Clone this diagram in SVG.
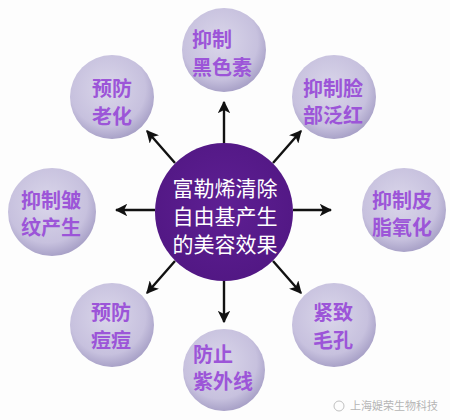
<svg xmlns="http://www.w3.org/2000/svg" width="450" height="420" viewBox="0 0 450 420">
<defs>
<radialGradient id="sat" cx="0.45" cy="0.4" r="0.6">
<stop offset="0" stop-color="#dad6ea"/>
<stop offset="0.75" stop-color="#c7c1de"/>
<stop offset="1" stop-color="#a9a2c8"/>
</radialGradient>
<radialGradient id="ctr" cx="0.5" cy="0.45" r="0.6">
<stop offset="0" stop-color="#5e1f93"/>
<stop offset="1" stop-color="#511783"/>
</radialGradient>
<marker id="ah" viewBox="0 0 10 10" refX="9" refY="5" markerWidth="5.2" markerHeight="5.2" orient="auto" markerUnits="strokeWidth">
<path d="M0,0 L10,5 L0,10 L2.5,5 Z" fill="#111"/>
</marker>
</defs>
<style>
.sat{fill:url(#sat);}
.st{font-family:"Noto Sans CJK SC","Noto Sans",sans-serif;font-weight:bold;font-size:20px;fill:#9c55d8;}
.ct{font-family:"Noto Sans CJK SC","Noto Sans",sans-serif;font-size:21px;fill:#ffffff;text-anchor:middle;}
.ar{stroke:#111;stroke-width:2.4;fill:none;marker-end:url(#ah);}
.wm{font-family:"Noto Sans CJK SC",sans-serif;font-size:11px;fill:#b5b5b5;}
</style>
<rect width="450" height="420" fill="#fdfdfd"/>
<g id="connectors">
<line class="ar" x1="224" y1="143" x2="224" y2="102"/>
<line class="ar" x1="175" y1="163" x2="147" y2="131"/>
<line class="ar" x1="273" y1="163" x2="301" y2="131"/>
<line class="ar" x1="155" y1="210" x2="116" y2="210"/>
<line class="ar" x1="293" y1="210" x2="331" y2="210"/>
<line class="ar" x1="175" y1="261" x2="147" y2="293"/>
<line class="ar" x1="273" y1="261" x2="301" y2="293"/>
<line class="ar" x1="224" y1="281" x2="224" y2="322"/>
</g>
<g id="center">
<circle cx="224" cy="212" r="69" fill="url(#ctr)"/>
<text class="ct" x="225" y="196">富勒烯清除</text>
<text class="ct" x="225" y="224">自由基产生</text>
<text class="ct" x="225" y="252">的美容效果</text>
</g>
<g id="n-top">
<circle class="sat" cx="224" cy="50" r="42"/>
<text class="st" x="192" y="47">抑制</text>
<text class="st" x="192" y="75">黑色素</text>
</g>
<g id="n-topright">
<circle class="sat" cx="334" cy="97" r="42"/>
<text class="st" x="303" y="96">抑制脸</text>
<text class="st" x="303" y="123">部泛红</text>
</g>
<g id="n-right">
<circle class="sat" cx="404" cy="210" r="42"/>
<text class="st" x="372" y="208">抑制皮</text>
<text class="st" x="372" y="235">脂氧化</text>
</g>
<g id="n-bottomright">
<circle class="sat" cx="334" cy="325" r="42"/>
<text class="st" x="313" y="320">紧致</text>
<text class="st" x="313" y="348">毛孔</text>
</g>
<g id="n-bottom">
<circle class="sat" cx="224" cy="370" r="41"/>
<text class="st" x="193" y="362">防止</text>
<text class="st" x="193" y="389">紫外线</text>
</g>
<g id="n-bottomleft">
<circle class="sat" cx="112" cy="325" r="42"/>
<text class="st" x="91" y="320">预防</text>
<text class="st" x="91" y="348">痘痘</text>
</g>
<g id="n-left">
<circle class="sat" cx="52" cy="212" r="44"/>
<text class="st" x="21" y="208">抑制皱</text>
<text class="st" x="21" y="235">纹产生</text>
</g>
<g id="n-topleft">
<circle class="sat" cx="112" cy="97" r="42"/>
<text class="st" x="92" y="96">预防</text>
<text class="st" x="92" y="124">老化</text>
</g>
<g id="watermark">
<circle cx="339" cy="406" r="5" fill="none" stroke="#c0c0c0" stroke-width="1"/>
<text class="wm" x="350" y="410">上海媞荣生物科技</text>
</g>
</svg>
